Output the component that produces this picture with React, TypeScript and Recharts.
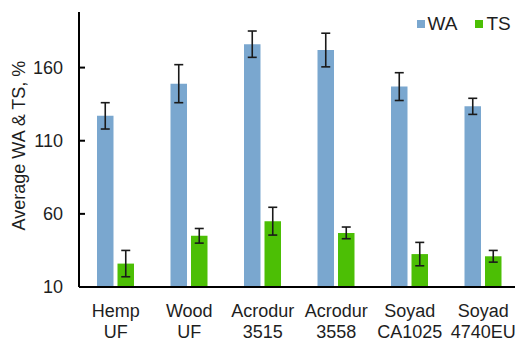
import React from "react";
import { BarChart, Bar, XAxis, YAxis, ErrorBar } from "recharts";

const categories = ["Hemp\nUF", "Wood\nUF", "Acrodur\n3515", "Acrodur\n3558", "Soyad\nCA1025", "Soyad\n4740EU"];
const waValues = [127, 149, 176, 172, 147, 133.5];
const waErrors = [9, 13, 9, 11.5, 9.5, 5.5];
const tsValues = [26, 45, 55, 47, 32.5, 31];
const tsErrors = [9, 5, 9.5, 4, 8, 4];
const yTicks = [10, 60, 110, 160];
const seriesNames = ["WA", "TS"];
const yTitle = "Average WA & TS, %";

const WA_COLOR = "#7aa7cf";
const TS_COLOR = "#4cbf05";
const seriesColors = [WA_COLOR, TS_COLOR];
const TEXT = "#1e1e1e";
const FONT = "'Liberation Sans', Arial, sans-serif";
const FONT_SIZE = 18;

const data = categories.map((name, i) => ({
  name,
  WA: waValues[i],
  waErr: waErrors[i],
  TS: tsValues[i],
  tsErr: tsErrors[i],
}));

const XTick = (props: any) => {
  const { x, y, payload } = props;
  const lines = String(payload.value).split("\n");
  return (
    <g>
      {lines.map((line, i) => (
        <text
          key={i}
          x={x}
          y={y + 29.5 + i * 21}
          textAnchor="middle"
          fill={TEXT}
          fontSize={FONT_SIZE}
          fontFamily={FONT}
        >
          {line}
        </text>
      ))}
    </g>
  );
};

const YTick = (props: any) => {
  const { x, y, payload } = props;
  return (
    <g>
      <line x1={x} x2={x + 6} y1={y} y2={y} stroke="#000" strokeWidth={2} />
      <text
        x={x - 16}
        y={y}
        dy="0.355em"
        textAnchor="end"
        fill={TEXT}
        fontSize={FONT_SIZE}
        fontFamily={FONT}
      >
        {payload.value}
      </text>
    </g>
  );
};

// Rotated axis title, centred slightly above the plot's vertical middle
const YTitle = (props: any) => {
  const { viewBox } = props;
  const cy = viewBox.y + viewBox.height / 2 - 4;
  const bx = 25;
  return (
    <text
      x={bx}
      y={cy}
      transform={`rotate(-90, ${bx}, ${cy})`}
      textAnchor="middle"
      fill={TEXT}
      fontSize={FONT_SIZE}
      fontFamily={FONT}
    >
      {yTitle}
    </text>
  );
};

const ChartLegend = () => (
  <div
    style={{
      position: "absolute",
      top: 14,
      left: 416.5,
      display: "flex",
      alignItems: "center",
      fontFamily: FONT,
      fontSize: 19,
      color: TEXT,
    }}
  >
    {seriesNames.map((name, i) => (
      <div key={name} style={{ display: "flex", alignItems: "center", marginRight: 18 }}>
        <div style={{ width: 8, height: 8, background: seriesColors[i], marginRight: 3 }} />
        <span style={{ lineHeight: "20px" }}>{name}</span>
      </div>
    ))}
  </div>
);

export default function App() {
  return (
    <div style={{ position: "absolute", left: 0, top: 0, width: 515, height: 341, overflow: "hidden", background: "#fff" }}>
      <BarChart
        width={520}
        height={341}
        data={data}
        margin={{ top: 12, right: 0, bottom: 0, left: 0 }}
        barSize={16.5}
        barGap={4}
      >
        <XAxis
          dataKey="name"
          tick={<XTick />}
          tickLine={false}
          tickSize={0}
          tickMargin={0}
          height={54}
          axisLine={{ stroke: "#000", strokeWidth: 2 }}
          interval={0}
        />
        <YAxis
          domain={[10, 198]}
          ticks={yTicks}
          tick={<YTick />}
          tickLine={false}
          tickSize={0}
          tickMargin={0}
          width={79}
          axisLine={{ stroke: "#000", strokeWidth: 2 }}
          label={<YTitle />}
        />
        <Bar dataKey="WA" fill={WA_COLOR} isAnimationActive={false}>
          <ErrorBar dataKey="waErr" width={4.5} strokeWidth={1.6} stroke="#1a1a1a" direction="y" />
        </Bar>
        <Bar dataKey="TS" fill={TS_COLOR} isAnimationActive={false}>
          <ErrorBar dataKey="tsErr" width={4.5} strokeWidth={1.6} stroke="#1a1a1a" direction="y" />
        </Bar>
      </BarChart>
      <ChartLegend />
    </div>
  );
}
